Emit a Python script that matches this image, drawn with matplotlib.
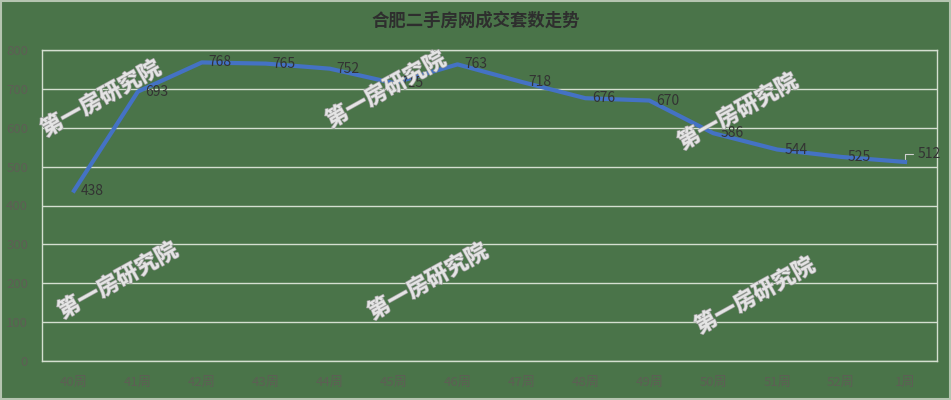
import matplotlib
matplotlib.use("Agg")
import matplotlib.pyplot as plt
import matplotlib.patheffects as pe

plt.rcParams['font.family'] = ['Noto Sans CJK SC', 'DejaVu Sans']

# data
weeks = ['40周', '41周', '42周', '43周', '44周', '45周', '46周',
         '47周', '48周', '49周', '50周', '51周', '52周', '1周']
deals = [438, 693, 768, 765, 752, 715, 763, 718, 676, 670, 586, 544, 525, 512]

title = '合肥二手房网成交套数走势'
watermark = '第一房研究院'
# watermark centres in pixel coords (x, y from top)
wm_pos = [(101, 99), (386, 90), (738, 112), (118, 281), (428, 282), (755, 296)]

BG = '#4a7449'
GRID = '#d4dfd0'
LINE = '#4472c4'
DARK = '#333333'
TICK = '#5e5e55'

W, H = 951, 400
fig = plt.figure(figsize=(W / 100, H / 100), dpi=100, facecolor=BG)
ax = fig.add_axes([42 / W, 1 - 361 / H, (937 - 42) / W, (361 - 50) / H])
ax.set_facecolor(BG)

x = list(range(len(weeks)))
ax.plot(x, deals, color=LINE, linewidth=3, solid_joinstyle='round', zorder=3)

for i, v in enumerate(deals):
    if i == len(deals) - 1:
        ax.annotate(str(v), xy=(i, v), xytext=(9, 6), textcoords='offset points',
                    ha='left', va='center', fontsize=10, color=DARK, zorder=4,
                    arrowprops=dict(arrowstyle='-', color='#d0d0d0', lw=0.8,
                                    connectionstyle='angle,angleA=0,angleB=90,rad=0',
                                    shrinkA=1, shrinkB=2))
    else:
        ax.annotate(str(v), xy=(i, v), xytext=(5, 0), textcoords='offset points',
                    ha='left', va='center', fontsize=10, color=DARK, zorder=4)

ax.set_xlim(-0.5, len(weeks) - 0.5)
ax.set_ylim(0, 800)
ax.set_yticks(range(0, 801, 100))
ax.set_xticks(x)
ax.set_xticklabels(weeks)
ax.tick_params(axis='both', length=0, labelsize=9.5, labelcolor=TICK)
ax.tick_params(axis='x', pad=11)
ax.tick_params(axis='y', pad=10)
ax.grid(axis='y', color=GRID, linewidth=1)
ax.set_axisbelow(True)
for s in ax.spines.values():
    s.set_color(GRID)
    s.set_linewidth(1)

fig.text(0.5, 1 - 21 / H, title, ha='center', va='center', fontsize=12.5,
         fontweight='heavy', color='#2e2e2e')

for px, py in wm_pos:
    fig.text(px / W, 1 - py / H, watermark, ha='center', va='center',
             fontsize=16, fontweight='bold', color='#e4e4e4', rotation=29,
             zorder=10,
             path_effects=[pe.withStroke(linewidth=1, foreground='#a0a0a0')])

# thin outer frame
fig.patches.append(plt.Rectangle((0.001, 0.002), 0.998, 0.996, transform=fig.transFigure,
                                 fill=False, edgecolor='#b5c4b0', linewidth=1.5))

fig.savefig('out.png', dpi=100, facecolor=BG)
